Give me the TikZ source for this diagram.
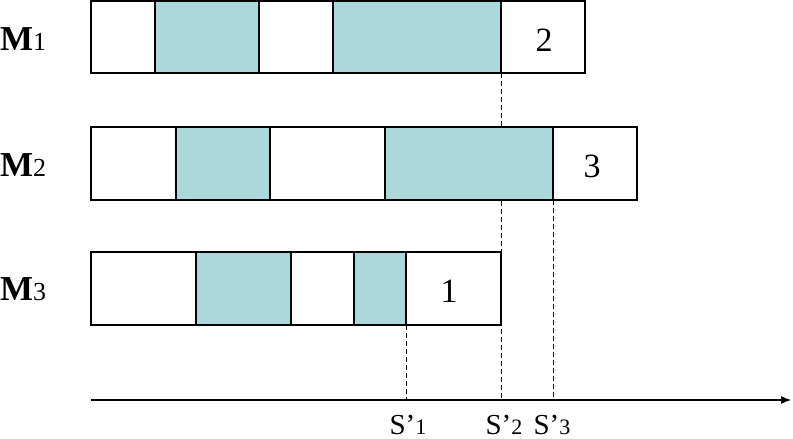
\documentclass[tikz,border=0pt]{standalone}
\usepackage{fontspec}
\setmainfont{Liberation Serif}
\usetikzlibrary{arrows.meta}
\definecolor{cellblue}{RGB}{172,216,220}
\tikzset{
  cell/.style={draw=black, line width=1.1pt, fill=white},
  busy/.style={draw=black, line width=1.1pt, fill=cellblue},
  guide/.style={draw=black, line width=0.9pt, dash pattern=on 5pt off 3pt},
  mlabel/.style={anchor=base west, inner sep=0pt},
  numlabel/.style={anchor=base, inner sep=0pt, font=\fontsize{34}{36}\selectfont},
  slabel/.style={anchor=base, inner sep=0pt, text depth=0pt},
}
\newcommand{\mlab}[1]{{\fontsize{35}{36}\selectfont\bfseries M\mdseries\fontsize{26}{27}\selectfont #1}}
\newcommand{\slab}[2]{{\fontsize{29}{31}\selectfont S#1\fontsize{22}{24}\selectfont #2}}
\begin{document}
\begin{tikzpicture}[x=1pt,y=-1pt]
\useasboundingbox (0,0) rectangle (793,439);
% dashed guides (behind boxes)
\coordinate (g1t) at (501,73);
\coordinate (g1b) at (501,400);
\coordinate (g2t) at (553,200);
\coordinate (g2b) at (553,400);
\coordinate (g3t) at (406,325);
\coordinate (g3b) at (406,400);
\draw[guide] (g1t) -- (g1b);
\draw[guide] (g2t) -- (g2b);
\draw[guide] (g3t) -- (g3b);
% row M1
\draw[cell] (91,1) rectangle (155,73);
\draw[busy] (155,1) rectangle (259,73);
\draw[cell] (259,1) rectangle (333,73);
\draw[busy] (333,1) rectangle (501,73);
\draw[cell] (501,1) rectangle (585,73);
% row M2
\draw[cell] (91,127) rectangle (176,200);
\draw[busy] (176,127) rectangle (270,200);
\draw[cell] (270,127) rectangle (385,200);
\draw[busy] (385,127) rectangle (553,200);
\draw[cell] (553,127) rectangle (637,200);
% row M3
\draw[cell] (91,252) rectangle (196,325);
\draw[busy] (196,252) rectangle (291,325);
\draw[cell] (291,252) rectangle (354,325);
\draw[busy] (354,252) rectangle (406,325);
\draw[cell] (406,252) rectangle (501,325);
% labels
\node[mlabel] (m1) at (0,50) {\mlab{1}};
\node[mlabel] (m2) at (0,176) {\mlab{2}};
\node[mlabel] (m3) at (0,300) {\mlab{3}};
\node[numlabel] (n2) at (544,51) {2};
\node[numlabel] (n3) at (592,177) {3};
\node[numlabel] (n1) at (449,302) {1};
% axis
\coordinate (ax0) at (91,400);
\coordinate (ax1) at (791,400);
\draw[line width=1.1pt, -{Latex[length=10pt,width=8pt]}] (ax0) -- (ax1);
\node[slabel] (s1) at (408,434) {\slab{’}{1}};
\node[slabel] (s2) at (504,434) {\slab{’}{2}};
\node[slabel] (s3) at (552,434) {\slab{'}{3}};
\end{tikzpicture}
\end{document}
